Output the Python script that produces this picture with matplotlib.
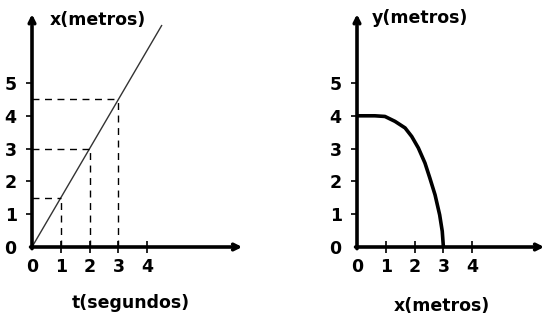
import matplotlib
matplotlib.use("Agg")
import matplotlib.pyplot as plt

# dados do gráfico x(t)
t_line = [0, 4.5]
x_line = [0, 6.75]
t_marks = [1, 2, 3]
x_marks = [1.5, 3, 4.5]

# dados da trajetória y(x)
x_curve = [0, 0.62, 0.97, 1.32, 1.67, 1.9, 2.13, 2.36, 2.53, 2.71, 2.87, 2.96, 3.0]
y_curve = [4, 4, 3.98, 3.83, 3.63, 3.37, 3.02, 2.56, 2.1, 1.59, 0.98, 0.48, 0]

xticks = [0, 1, 2, 3, 4]
yticks = [1, 2, 3, 4, 5]

W, H = 545, 320
PX_X, PX_Y = 28.8, 32.8   # pixels por unidade
FS = 12.5
plt.rcParams['font.family'] = 'DejaVu Sans'
plt.rcParams['font.weight'] = 'bold'

fig = plt.figure(figsize=(W / 100, H / 100), dpi=100)


def make_axes(x0, y0, xmax, ymax):
    ax = fig.add_axes([x0 / W, (H - y0) / H, xmax * PX_X / W, ymax * PX_Y / H])
    ax.set_xlim(0, xmax)
    ax.set_ylim(0, ymax)
    ax.patch.set_visible(False)
    for s in ax.spines.values():
        s.set_visible(False)
    # eixos com setas
    arrow = dict(arrowstyle='->', lw=2.6, color='black',
                 mutation_scale=10, shrinkA=0, shrinkB=0)
    ax.annotate('', xy=(xmax, 0), xytext=(-0.05, 0), annotation_clip=False,
                arrowprops=arrow)
    ax.annotate('', xy=(0, ymax), xytext=(0, -0.05), annotation_clip=False,
                arrowprops=arrow)
    ax.set_xticks(xticks)
    ax.set_yticks([0] + yticks)
    ax.tick_params(axis='x', direction='inout', length=8, width=1.2, pad=4,
                   labelsize=FS)
    ax.tick_params(axis='y', direction='out', length=4, width=1.2, pad=7,
                   labelsize=FS)
    ax.xaxis.get_major_ticks()[0].tick1line.set_visible(False)
    ax.yaxis.get_major_ticks()[0].tick1line.set_visible(False)
    for lab in ax.get_xticklabels() + ax.get_yticklabels():
        lab.set_fontweight('bold')
    return ax


# gráfico da esquerda: x(t)
ax1 = make_axes(32, 247, 7.3, 7.1)
ax1.plot(t_line, x_line, color='#333333', lw=1.0, clip_on=False)
for t, x in zip(t_marks, x_marks):
    ax1.plot([0, t], [x, x], color='black', lw=1.0, ls=(0, (5, 4)))
    ax1.plot([t, t], [0, x], color='black', lw=1.0, ls=(0, (5, 4)))
fig.text(50 / W, 1 - 20 / H, 'x(metros)', fontsize=FS, fontweight='bold',
         ha='left', va='center')
fig.text(131 / W, 1 - 303 / H, 't(segundos)', fontsize=FS, fontweight='bold',
         ha='center', va='center')

# gráfico da direita: y(x)
ax2 = make_axes(357, 247, 6.5, 7.1)
ax2.plot(x_curve, y_curve, color='black', lw=2.6, solid_capstyle='butt')
fig.text(372 / W, 1 - 18 / H, 'y(metros)', fontsize=FS, fontweight='bold',
         ha='left', va='center')
fig.text(442 / W, 1 - 306 / H, 'x(metros)', fontsize=FS, fontweight='bold',
         ha='center', va='center')

fig.savefig('out.png', dpi=100)
